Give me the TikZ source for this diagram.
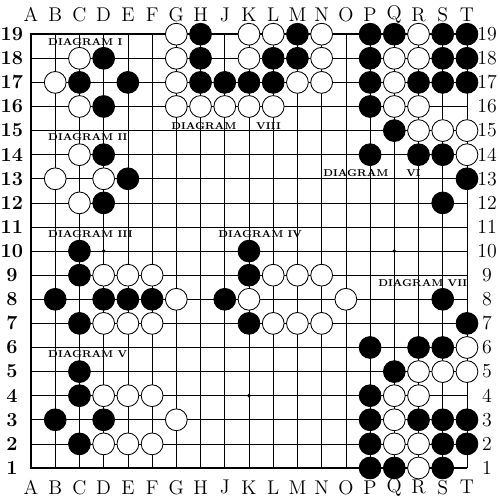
\documentclass[tikz,border=0pt]{standalone}
\usepackage{tikz}

\begin{document}
\begin{tikzpicture}[x = 0.6cm, y = 0.597cm,
        stone/.style = {circle, minimum size = 0.54cm, inner sep = 0pt, draw = black, line width = 0.6pt, fill = #1},
        diagram/.style = {anchor = west, inner sep = 0pt, font = \fontsize{7}{8}\selectfont\bfseries},
        coord/.style = {inner sep = 0pt, font = \fontsize{14}{16}\selectfont}]
    \useasboundingbox[fill = white] (-0.28, -0.328) rectangle (20.364, 20.419);
    \draw[line width = 0.5pt, step = 1] (1, 1) grid (19, 19);
    \draw[line width = 1.4pt] (19, 19) -- (1, 19) -- (1, 1) -- (19, 1);
    \foreach \x in {4, 10, 16}
        \foreach \y in {4, 10, 16}
            \fill (\x, \y) circle (0.08);
    \foreach \c [count = \i] in {A, B, C, D, E, F, G, H, J, K, L, M, N, O, P, Q, R, S, T} {
        \node[coord] (top-\c) at (\i, 19.82) {\c};
        \node[coord] (bot-\c) at (\i, 0.2) {\c};
        \foreach \r in {1, ..., 19}
            \coordinate (\c\r) at (\i, \r);
    }
    \foreach \r in {1, ..., 19} {
        \node[coord, font = \fontsize{14}{16}\selectfont\bfseries] (left-\r) at (0.21, \r) {\r};
        \node[coord] (right-\r) at (19.83, \r) {\r};
    }
    % black stones
    \foreach \p in {D18, C17, E17, D16,
                    H19, M19, H18, L18, M18, H17, J17, K17, L17,
                    P19, Q19, S19, T19, P18, S18, T18, P17, R17, S17, T17, P16, Q15, P14, R14, S14, T13, S12,
                    D14, E13, D12,
                    C10, C9, B8, D8, E8, F8, C7,
                    K10, K9, J8, K7,
                    S8, T7, P6, R6, S6, Q5, P4, P3, R3, S3, T3, P2, S2, T2, P1, Q1, S1,
                    C5, C4, B3, D3, C2}
        \node[stone = black] (s-\p) at (\p) {};
    % white stones
    \foreach \p in {C18, B17, C16,
                    G19, K19, L19, N19, G18, K18, N18, G17, M17, N17, G16, H16, J16, K16, L16,
                    R19, Q18, R18, Q17, Q16, R16, R15, S15, T15, T14,
                    C14, B13, D13, C12,
                    D9, E9, F9, G8, D7, E7, F7,
                    L9, M9, N9, K8, O8, L7, M7, N7,
                    T6, R5, S5, T5, Q4, R4, Q3, Q2, R2, R1,
                    D4, E4, F4, G3, D2, E2, F2}
        \node[stone = white] (s-\p) at (\p) {};
    \node[diagram] (dia-I) at (1.70, 18.68) {DIAGRAM I};
    \node[diagram] (dia-II) at (1.70, 14.73) {DIAGRAM II};
    \node[diagram] (dia-III) at (1.70, 10.71) {DIAGRAM III};
    \node[diagram] (dia-IV) at (8.72, 10.71) {DIAGRAM IV};
    \node[diagram] (dia-V) at (1.70, 5.73) {DIAGRAM V};
    \node[diagram] (dia-VI) at (13.06, 13.24) {DIAGRAM\hspace{1.8em}VI};
    \node[diagram] (dia-VII) at (15.33, 8.68) {DIAGRAM VII};
    \node[diagram] (dia-VIII) at (6.78, 15.19) {DIAGRAM\hspace{2em}VIII};
\end{tikzpicture}
\end{document}
